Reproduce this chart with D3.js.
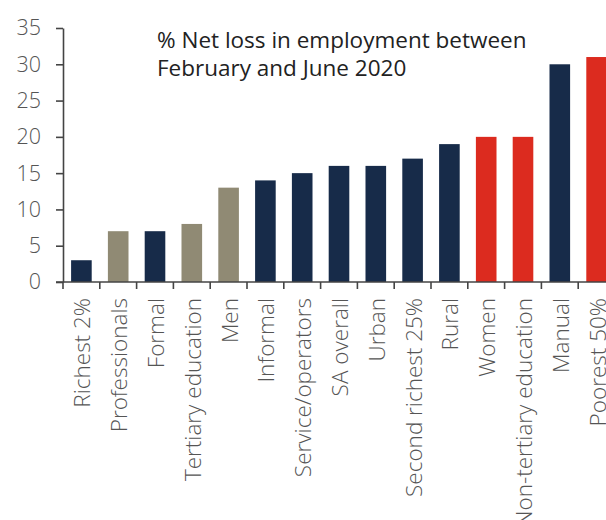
<!DOCTYPE html>
<html><head><meta charset="utf-8">
<script src="https://cdn.jsdelivr.net/npm/d3@7"></script>
<style>
html,body{margin:0;padding:0;background:#fff;overflow:hidden;}
svg{display:block;}
</style></head>
<body>
<svg id="chart" width="606" height="520"></svg>
<script>
const categories = ["Richest 2%","Professionals","Formal","Tertiary education","Men","Informal","Service/operators","SA overall","Urban","Second richest 25%","Rural","Women","Non-tertiary education","Manual","Poorest 50%"];
const values = [3,7,7,8,13,14,15,16,16,17,19,20,20,30,31];
const groups = ["navy","taupe","navy","taupe","taupe","navy","navy","navy","navy","navy","navy","red","red","navy","red"];
const yTicks = [0,5,10,15,20,25,30,35];
const titleLines = ["% Net loss in employment between","February and June 2020"];

const colors = {navy:"#172b49", taupe:"#908a74", red:"#dc2b1f"};
const svg = d3.select("#chart");
const font = "'Open Sans', sans-serif";
const mLeft = 63, mRight = 615, mTop = 28, mBottom = 282;

const y = d3.scaleLinear().domain([0,35]).range([mBottom, mTop]);
const xOuter = d3.scaleBand().domain(categories).range([mLeft, mRight]).padding(0);
const x = d3.scaleBand().domain(categories).range([mLeft, mRight]).paddingInner(0.44).paddingOuter(0.22);

// bars
svg.append("g").selectAll("rect").data(categories).join("rect")
  .attr("x", d => x(d))
  .attr("width", x.bandwidth())
  .attr("y", (d,i) => y(values[i]))
  .attr("height", (d,i) => y(0) - y(values[i]))
  .attr("fill", (d,i) => colors[groups[i]]);

// y axis
const yAxis = svg.append("g").attr("transform", `translate(${mLeft},0)`)
  .call(d3.axisLeft(y).tickValues(yTicks).tickSize(7).tickSizeOuter(0).tickPadding(15));
yAxis.select(".domain").attr("stroke", "#444").attr("stroke-width", 1.6);
yAxis.selectAll(".tick line").attr("stroke", "#444").attr("stroke-width", 1.6);
yAxis.selectAll(".tick text").attr("font-family", font).attr("font-weight", 300)
  .attr("font-size", 21.5).attr("fill", "#555");

// x axis line
svg.append("line").attr("x1", mLeft - 7).attr("x2", mRight).attr("y1", y(0)).attr("y2", y(0))
  .attr("stroke", "#444").attr("stroke-width", 1.6);
// x ticks at band boundaries
svg.append("g").selectAll("line").data(categories).join("line")
  .attr("x1", d => xOuter(d)).attr("x2", d => xOuter(d))
  .attr("y1", y(0)).attr("y2", y(0) + 7)
  .attr("stroke", "#444").attr("stroke-width", 1.6);

// category labels
svg.append("g").selectAll("text").data(categories).join("text")
  .attr("transform", d => `translate(${xOuter(d) + xOuter.bandwidth()/2 + 9},${y(0) + 16}) rotate(-90)`)
  .attr("text-anchor", "end")
  .attr("font-family", font).attr("font-weight", 300)
  .attr("font-size", 22.5).attr("fill", "#555")
  .text(d => d);

// title
svg.append("g").selectAll("text").data(titleLines).join("text")
  .attr("x", 157).attr("y", (d,i) => 48 + i*28)
  .attr("font-family", font).attr("font-size", 22.5).attr("fill", "#222")
  .text(d => d);
</script>
</body></html>
